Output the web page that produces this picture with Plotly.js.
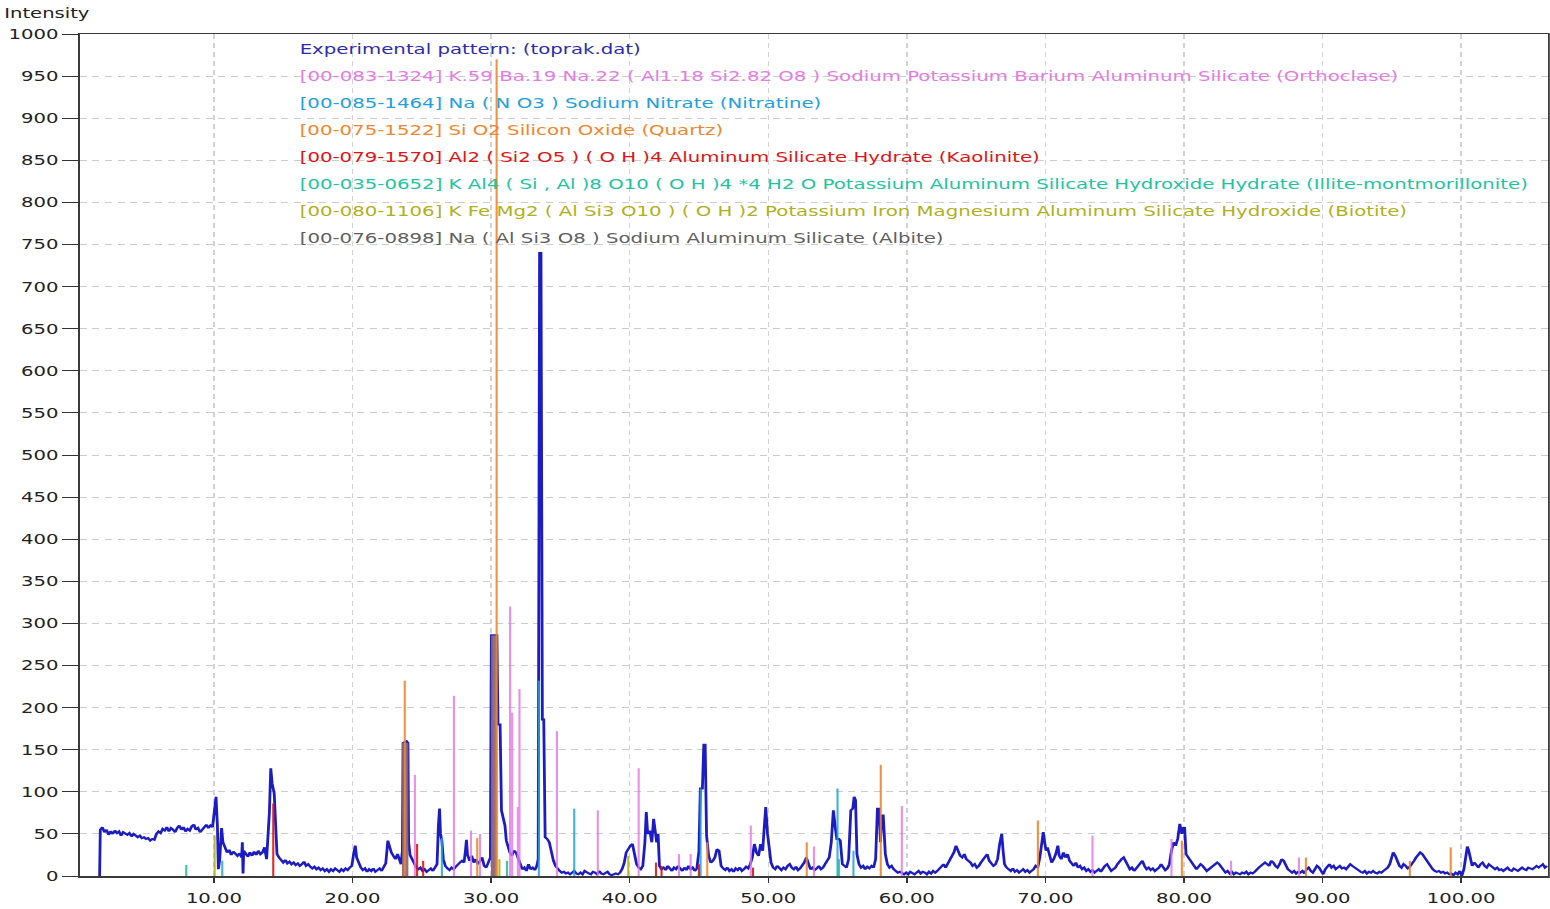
<!DOCTYPE html>
<html>
<head>
<meta charset="utf-8">
<script src="https://cdn.plot.ly/plotly-3.0.1.min.js"></script>
<style>
  html, body { margin: 0; padding: 0; background: #ffffff; overflow: hidden; }
  #wrap { width: 1550px; height: 909px; overflow: hidden; }
  /* the plot is laid out narrow and widened, so glyphs get the wide look of the original software */
  #chart { width: 1107px; height: 909px; transform: scaleX(1.4); transform-origin: 0 0; }
</style>
</head>
<body>
<div id="wrap"><div id="chart"></div></div>
<script>
// Measured diffraction pattern (2-theta in degrees, intensity in counts)
const twoTheta = [
  1.75,1.80,1.95,2.1,2.25,2.4,2.55,2.7,2.85,3.0,3.15,3.3,3.45,3.6,3.75,3.9,4.05,4.2,4.35,4.5,4.65,4.8,4.95,5.1,5.25,5.4,5.55,5.7,5.85,6.0,
  6.15,6.3,6.45,6.6,6.75,6.9,7.05,7.2,7.35,7.5,7.65,7.8,7.95,8.1,8.25,8.4,8.55,8.7,8.85,9.0,9.15,9.3,9.45,9.6,9.75,9.9,10.0,10.1,10.15,10.25,
  10.32,10.42,10.55,10.65,10.8,10.95,11.1,11.25,11.4,11.55,11.7,11.85,12.0,12.05,12.1,12.15,12.3,12.45,12.6,12.75,12.9,13.05,13.2,13.35,13.5,13.65,13.8,13.9,14.0,14.1,
  14.2,14.35,14.45,14.55,14.7,14.85,15.0,15.15,15.3,15.45,15.6,15.75,15.9,16.05,16.2,16.35,16.5,16.65,16.8,16.95,17.1,17.25,17.4,17.55,17.7,17.85,18.0,18.15,18.3,18.45,
  18.6,18.75,18.9,19.05,19.2,19.35,19.5,19.65,19.8,19.95,20.1,20.2,20.3,20.45,20.6,20.75,20.9,21.05,21.2,21.35,21.5,21.65,21.8,21.95,22.1,22.25,22.4,22.55,22.65,22.8,
  22.95,23.1,23.25,23.4,23.5,23.6,23.65,23.9,24.0,24.05,24.15,24.3,24.45,24.6,24.75,24.9,25.05,25.2,25.35,25.5,25.65,25.8,25.95,26.1,26.2,26.28,26.35,26.45,26.55,26.7,
  26.85,27.0,27.15,27.3,27.45,27.6,27.75,27.9,28.05,28.15,28.22,28.3,28.45,28.6,28.75,28.9,29.05,29.2,29.35,29.5,29.65,29.8,29.9,29.95,30.02,30.42,30.5,30.65,30.75,30.85,
  31.0,31.1,31.2,31.35,31.5,31.65,31.8,31.95,32.1,32.25,32.4,32.55,32.7,32.85,33.0,33.15,33.3,33.4,33.5,33.6,33.7,33.8,33.9,34.05,34.2,34.35,34.5,34.65,34.8,34.95,
  35.1,35.25,35.4,35.55,35.7,35.85,36.0,36.15,36.3,36.45,36.6,36.75,36.9,37.05,37.2,37.35,37.5,37.65,37.8,37.95,38.1,38.25,38.4,38.55,38.7,38.85,39.0,39.15,39.3,39.45,
  39.6,39.75,39.9,40.05,40.2,40.35,40.5,40.65,40.8,40.95,41.1,41.2,41.3,41.45,41.6,41.73,41.85,41.95,42.05,42.15,42.3,42.45,42.6,42.75,42.9,43.05,43.2,43.35,43.5,43.65,
  43.8,43.95,44.1,44.25,44.4,44.55,44.7,44.85,45.0,45.1,45.25,45.35,45.45,45.55,45.7,45.85,46.0,46.15,46.3,46.45,46.6,46.75,46.9,47.05,47.2,47.35,47.5,47.65,47.8,47.95,
  48.1,48.25,48.4,48.55,48.7,48.85,49.0,49.15,49.3,49.45,49.6,49.7,49.82,49.95,50.05,50.2,50.35,50.5,50.65,50.8,50.95,51.1,51.25,51.4,51.55,51.7,51.85,52.0,52.15,52.3,
  52.45,52.6,52.75,52.9,53.05,53.2,53.35,53.5,53.65,53.8,53.95,54.1,54.25,54.4,54.55,54.7,54.85,54.95,55.1,55.2,55.35,55.5,55.65,55.8,55.9,55.96,56.1,56.2,56.3,56.4,
  56.55,56.7,56.85,57.0,57.15,57.3,57.45,57.6,57.75,57.88,58.0,58.1,58.2,58.3,58.45,58.6,58.75,58.9,59.05,59.2,59.35,59.5,59.65,59.8,59.95,60.1,60.25,60.4,60.55,60.7,
  60.85,61.0,61.15,61.3,61.45,61.6,61.75,61.9,62.05,62.2,62.35,62.5,62.65,62.8,62.95,63.1,63.25,63.4,63.55,63.7,63.85,64.0,64.15,64.3,64.45,64.6,64.75,64.9,65.05,65.2,
  65.35,65.5,65.65,65.8,65.95,66.1,66.25,66.4,66.55,66.7,66.85,66.95,67.05,67.2,67.35,67.5,67.65,67.8,67.95,68.1,68.25,68.4,68.55,68.7,68.85,69.0,69.15,69.3,69.45,69.6,
  69.75,69.85,69.95,70.05,70.15,70.3,70.45,70.6,70.75,70.9,71.0,71.15,71.3,71.45,71.6,71.75,71.9,72.05,72.2,72.35,72.5,72.65,72.8,72.95,73.1,73.25,73.4,73.55,73.7,73.85,
  74.0,74.15,74.3,74.45,74.6,74.75,74.9,75.05,75.2,75.35,75.5,75.65,75.8,75.95,76.1,76.25,76.4,76.55,76.7,76.85,77.0,77.15,77.3,77.45,77.6,77.75,77.9,78.05,78.2,78.35,
  78.5,78.65,78.8,78.95,79.1,79.25,79.4,79.55,79.7,79.85,79.95,80.05,80.15,80.3,80.45,80.6,80.75,80.9,81.05,81.2,81.35,81.5,81.65,81.8,81.95,82.1,82.25,82.4,82.55,82.7,
  82.85,83.0,83.15,83.3,83.45,83.6,83.75,83.9,84.05,84.2,84.35,84.5,84.65,84.8,84.95,85.1,85.25,85.4,85.55,85.7,85.85,86.0,86.15,86.3,86.45,86.6,86.75,86.9,87.05,87.2,
  87.35,87.5,87.65,87.8,87.95,88.1,88.25,88.4,88.55,88.7,88.85,89.0,89.15,89.3,89.45,89.6,89.75,89.9,90.05,90.2,90.35,90.5,90.65,90.8,90.95,91.1,91.25,91.4,91.55,91.7,
  91.85,92.0,92.15,92.3,92.45,92.6,92.75,92.9,93.05,93.2,93.35,93.5,93.65,93.8,93.95,94.1,94.25,94.4,94.55,94.7,94.85,95.0,95.1,95.25,95.4,95.55,95.7,95.85,96.0,96.15,
  96.3,96.45,96.6,96.75,96.9,97.05,97.2,97.35,97.5,97.65,97.8,97.95,98.1,98.25,98.4,98.55,98.7,98.85,99.0,99.15,99.3,99.45,99.6,99.75,99.9,100.05,100.2,100.35,100.45,100.55,
  100.65,100.8,100.95,101.1,101.25,101.4,101.55,101.7,101.85,102.0,102.15,102.3,102.45,102.6,102.75,102.9,103.05,103.2,103.35,103.5,103.65,103.8,103.95,104.1,104.25,104.4,104.55,104.7,104.85,105.0,
  105.15,105.3,105.45,105.6,105.75,105.9,106.05,106.2
];
const counts = [
  0,55,58,52,55,49,53,50,54,51,53,48,52,50,49,51,47,50,48,46,48,45,46,44,45,42,44,43,50,53,
  51,56,54,58,53,57,55,52,57,60,55,58,53,56,54,59,61,55,57,52,55,58,61,57,60,58,72,78,94,60,
  8,20,57,40,34,28,31,25,29,26,24,27,22,40,3,30,26,23,28,24,29,25,30,26,28,34,20,40,75,128,
  110,98,60,26,22,18,16,19,15,17,14,16,13,15,12,14,17,12,14,11,9,11,8,10,7,9,6,8,5,8,
  6,9,7,5,8,6,9,7,10,12,28,36,22,14,10,7,9,5,8,6,9,5,7,9,6,10,15,42,35,28,
  24,20,26,18,14,30,158,160,158,40,25,20,14,10,8,10,6,8,5,7,9,6,10,14,60,80,50,42,20,12,
  9,7,10,8,11,14,16,18,16,30,43,25,18,24,16,20,14,18,22,12,10,16,20,22,286,286,180,180,78,70,
  60,42,34,28,24,30,28,22,14,8,10,6,14,8,10,7,12,20,740,740,186,186,46,44,40,28,18,12,8,6,
  4,5,3,4,2,4,6,3,2,4,2,6,4,3,2,5,4,2,6,3,2,3,5,2,1,2,3,2,4,8,
  15,28,33,36,38,25,14,10,8,12,40,76,50,54,40,68,48,40,50,12,8,10,7,12,9,6,10,8,12,9,
  6,10,7,12,8,10,6,9,30,104,104,156,156,48,24,16,18,22,32,30,12,9,7,10,6,8,5,9,7,10,
  6,8,11,9,14,22,38,28,24,38,30,55,82,50,38,16,10,8,12,9,7,10,8,12,14,10,8,11,7,9,
  12,16,22,14,8,10,7,9,12,8,10,14,18,22,40,78,56,44,44,42,14,12,10,20,60,78,80,94,90,26,
  14,10,12,8,11,9,12,10,20,80,80,40,72,72,26,14,10,12,8,6,4,5,3,2,4,2,5,3,2,4,
  6,3,5,4,2,5,3,6,4,6,9,12,14,10,14,18,22,28,36,30,24,22,26,20,18,16,12,14,10,12,
  16,20,24,26,18,14,12,14,20,38,50,30,14,10,8,6,9,5,7,4,6,8,5,7,4,6,8,12,10,22,
  40,52,40,30,34,22,16,20,26,36,24,20,28,22,26,18,14,12,16,10,12,8,10,6,8,5,7,4,6,8,
  5,9,12,14,10,6,8,10,14,18,20,22,18,12,8,10,6,9,12,16,18,12,8,10,7,9,6,8,10,14,
  10,7,9,14,30,40,36,44,62,50,57,57,26,22,18,14,10,8,11,14,12,8,6,8,10,12,14,16,14,10,
  6,4,6,3,5,2,4,3,2,4,3,5,2,4,3,5,8,10,12,14,16,14,12,18,16,12,10,14,20,18,
  12,8,6,4,6,3,5,4,6,3,8,10,6,4,8,12,10,6,2,8,12,14,10,12,8,10,12,9,10,8,
  12,14,12,10,8,6,5,4,6,3,5,4,6,4,3,5,4,6,8,10,14,22,28,24,16,12,10,14,12,9,
  11,14,18,22,26,28,26,22,18,14,10,8,6,5,6,4,5,3,4,2,3,1,4,2,6,0,8,22,35,30,
  20,12,16,12,10,14,16,12,10,14,12,10,8,10,7,8,6,8,10,7,6,9,8,6,8,10,8,7,10,9,
  8,10,12,10,12,14,10,12
];

// Reference patterns: stick positions (2-theta) and intensities
const orthoclasePos = [24.5, 27.32, 28.55, 29.2, 30.1, 31.37, 31.52, 31.93, 32.05, 34.75, 37.7, 40.65, 43.56, 44.4, 48.74, 53.3, 59.64, 73.4, 79.1, 83.4, 88.3];
const orthoclaseInt = [120, 214, 54, 50, 185, 320, 194, 82, 222, 172, 78, 128, 26, 26, 60, 35, 83, 48, 44, 18, 22];
const nitratinePos = [10.6, 26.45, 33.45, 36.0, 45.12, 55.0, 56.15];
const nitratineInt = [18, 45, 232, 80, 104, 104, 30];
const quartzPos = [23.77, 29.0, 30.4, 45.6, 52.78, 58.12, 69.46, 79.85, 88.8, 96.3, 99.25];
const quartzInt = [232, 45, 970, 40, 40, 132, 66, 42, 22, 18, 34];
const kaolinitePos = [14.28, 24.66, 25.1, 41.9, 42.3, 45.0, 48.9];
const kaoliniteInt = [86, 38, 18, 16, 12, 14, 10];
const illitePos = [8.0, 31.15, 55.1];
const illiteInt = [13, 18, 20];
const biotitePos = [10.05, 30.6, 39.9];
const biotiteInt = [48, 20, 24];
const albitePos = [23.8, 30.22];
const albiteInt = [158, 286];

const legendLines = [
  'Experimental pattern: (toprak.dat)',
  '[00-083-1324] K.59 Ba.19 Na.22 ( Al1.18 Si2.82 O8 ) Sodium Potassium Barium Aluminum Silicate (Orthoclase)',
  '[00-085-1464] Na ( N O3 ) Sodium Nitrate (Nitratine)',
  '[00-075-1522] Si O2 Silicon Oxide (Quartz)',
  '[00-079-1570] Al2 ( Si2 O5 ) ( O H )4 Aluminum Silicate Hydrate (Kaolinite)',
  '[00-035-0652] K Al4 ( Si , Al )8 O10 ( O H )4 *4 H2 O Potassium Aluminum Silicate Hydroxide Hydrate (Illite-montmorillonite)',
  '[00-080-1106] K Fe Mg2 ( Al Si3 O10 ) ( O H )2 Potassium Iron Magnesium Aluminum Silicate Hydroxide (Biotite)',
  '[00-076-0898] Na ( Al Si3 O8 ) Sodium Aluminum Silicate (Albite)'
];
const legendColors = ['#2c2cae', '#e47ce4', '#22a0dc', '#f0862c', '#e01414', '#1ec4a0', '#b0b01c', '#606060'];

// turn a list of peaks into vertical segments from zero
function sticks(pos, val) {
  const x = [], y = [];
  pos.forEach((p, i) => { x.push(p, p, null); y.push(0, val[i], null); });
  return { x, y };
}

function stickTrace(pos, val, color, width, opacity) {
  const s = sticks(pos, val);
  return {
    type: 'scatter', mode: 'lines', x: s.x, y: s.y,
    line: { color: color, width: width }, opacity: opacity,
    hoverinfo: 'skip', showlegend: false
  };
}

const traces = [
  {
    type: 'scatter', mode: 'lines', x: twoTheta, y: counts,
    line: { color: '#1c1cc4', width: 2 }, hoverinfo: 'skip', showlegend: false
  },
  stickTrace(orthoclasePos, orthoclaseInt, legendColors[1], 1.5, 0.85),
  stickTrace(nitratinePos, nitratineInt, legendColors[2], 1.5, 0.85),
  stickTrace(albitePos, albiteInt, '#8a6272', 4.6, 0.9),
  stickTrace(quartzPos, quartzInt, legendColors[3], 1.5, 0.9),
  stickTrace(kaolinitePos, kaoliniteInt, legendColors[4], 1.5, 0.9),
  stickTrace(illitePos, illiteInt, legendColors[5], 1.5, 0.9),
  stickTrace(biotitePos, biotiteInt, legendColors[6], 1.5, 0.9)
];

const W = 1107, H = 909;
const M = { l: 57.14, r: 1.43, t: 34, b: 33 };
const plotH = H - M.t - M.b;

const annotations = legendLines.map((txt, i) => ({
  text: txt, xref: 'x', yref: 'paper',
  x: 16.0, y: (876 - (49 + 27 * i)) / plotH,
  xanchor: 'left', yanchor: 'middle', showarrow: false,
  font: { family: 'DejaVu Sans', size: 14.1, color: legendColors[i] }
}));
annotations.push({
  text: 'Intensity', xref: 'paper', yref: 'paper',
  x: (1 - M.l) / (W - M.l - M.r), y: 1 + (34 - 13) / plotH,
  xanchor: 'left', yanchor: 'middle', showarrow: false,
  font: { family: 'DejaVu Sans', size: 14, color: '#222222' }
});

const layout = {
  width: W, height: H,
  margin: M,
  paper_bgcolor: '#ffffff', plot_bgcolor: '#ffffff',
  showlegend: false,
  font: { family: 'DejaVu Sans', size: 14, color: '#222222' },
  xaxis: {
    range: [0.32, 106.3], tickmode: 'linear', tick0: 0, dtick: 10,
    tickformat: '.2f', ticks: 'outside', ticklen: 5, tickcolor: '#333333',
    showline: true, linecolor: '#3a3a3a', linewidth: 1.5, mirror: true,
    showgrid: true, gridcolor: '#d2d2d2', griddash: '5px,4px', gridwidth: 1,
    zeroline: false, ticklabelstandoff: 4,
    tickfont: { family: 'DejaVu Sans', size: 14, color: '#222222' }
  },
  yaxis: {
    range: [0, 1000], tickmode: 'linear', tick0: 0, dtick: 50,
    ticks: 'outside', ticklen: 11, tickcolor: '#333333',
    showline: true, linecolor: '#3a3a3a', linewidth: 1.5, mirror: true,
    showgrid: true, gridcolor: '#cccccc', griddash: '5px,4px', gridwidth: 1,
    zeroline: false,
    tickfont: { family: 'DejaVu Sans', size: 14, color: '#222222' }
  },
  annotations: annotations
};

Plotly.newPlot('chart', traces, layout, { staticPlot: true, displayModeBar: false });
</script>
</body>
</html>
